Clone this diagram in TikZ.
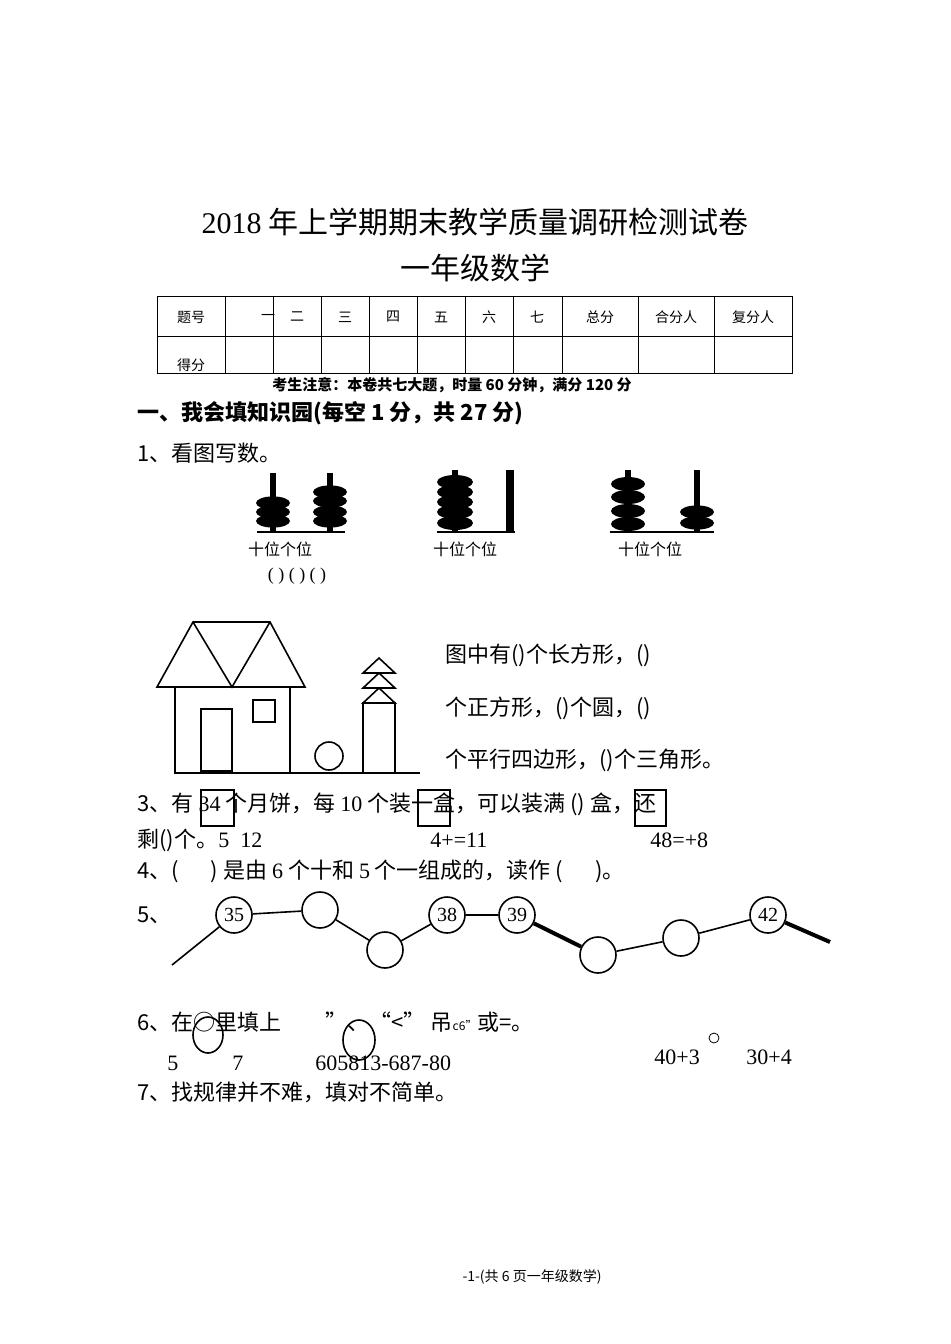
\documentclass[tikz,border=0pt]{standalone}
\usepackage{fontspec}
\setmainfont{Noto Sans CJK SC}
\newfontfamily\numfont{Liberation Serif}
\usetikzlibrary{positioning}
\tikzset{
  txt/.style={anchor=west, inner sep=0pt, font=\fontsize{11}{13}\selectfont},
  cell/.style={inner sep=0pt, font=\fontsize{7}{8}\selectfont},
  bead/.style={fill=black, draw=none},
  ring/.style={circle, draw, thick, minimum size=18pt, inner sep=0pt, font=\numfont\fontsize{10}{11}\selectfont},
  link/.style={thick},
  abox/.style={draw, thick}
}
\begin{document}
\begin{tikzpicture}[x=0.5pt,y=-0.5pt]
\useasboundingbox (0,0) rectangle (950,1344);
% title
\node[font=\fontsize{15}{17}\selectfont] (title) at (475,222) {{\numfont 2018} 年上学期期末教学质量调研检测试卷};
\node[font=\fontsize{15}{17}\selectfont] (sub) at (475,268) {一年级数学};
% score table
\draw (157,296) rectangle (792,373);
\draw (157,336) -- (792,336);
\foreach \x in {225,273,321,369,417,465,513,562,638,714} \draw (\x,296) -- (\x,373);
\node[cell] (th) at (191,317) {题号};
\node[cell] (t1) at (268,317) {一};
\foreach \x/\t in {297/二,345/三,393/四,441/五,489/六,537/七,600/总分,676/合分人,753/复分人}
  \node[cell] at (\x,317) {\t};
\node[cell] (tf) at (191,365) {得分};
\node[cell, font=\bfseries\fontsize{7.5}{8}\selectfont] (note) at (452,385) {考生注意：本卷共七大题，时量 60 分钟，满分 120 分};
% part one
\node[txt, font=\bfseries\fontsize{11}{13}\selectfont] (part) at (137,413) {一、我会填知识园(每空 1 分，共 27 分)};
\node[txt] (q1) at (137,453) {1、看图写数。};
% abacus 1
\draw[thick] (257,532) -- (345,532);
\draw[line width=3pt] (273,473) -- (273,532);
\draw[line width=3pt] (330,473) -- (330,532);
\foreach \y in {503,512,521} \fill[bead] (273,\y) ellipse (8.5pt and 3.3pt);
\foreach \y in {492,501,512,521} \fill[bead] (330,\y) ellipse (8.5pt and 3.3pt);
% abacus 2
\draw[thick] (437,532) -- (515,532);
\draw[line width=3pt] (455,470) -- (455,532);
\draw[line width=4pt] (510,470) -- (510,532);
\foreach \y in {482,492,502,512,523} \fill[bead] (455,\y) ellipse (9pt and 3.5pt);
% abacus 3
\draw[thick] (610,532) -- (714,532);
\draw[line width=3pt] (628,470) -- (628,532);
\draw[line width=3pt] (697,470) -- (697,532);
\foreach \y in {484,497,511,524} \fill[bead] (628,\y) ellipse (8.5pt and 3.5pt);
\foreach \y in {512,523} \fill[bead] (697,\y) ellipse (8.5pt and 3.3pt);
\foreach \x in {280,465,650}
  \node[cell, font=\fontsize{8}{9}\selectfont] at (\x,549) {十位个位};
\node[cell, font=\numfont\fontsize{9}{10}\selectfont] (par) at (297,576) {( ) ( ) ( )};
% house
\draw[thick] (157,687) -- (193,622) -- (270,622) -- (305,687) -- cycle;
\draw[thick] (193,622) -- (232,687) -- (270,622);
\draw[thick] (175,687) rectangle (290,773);
\draw[thick] (201,709) rectangle (232,771);
\draw[thick] (253,700) rectangle (275,722);
\draw[thick] (175,773) -- (420,773);
\draw[thick] (329,756) circle (7pt);
\draw[thick] (363,703) rectangle (395,773);
\foreach \y in {673,688,703} \draw[thick] (363,\y) -- (379,\y-15) -- (395,\y) -- cycle;
\node[txt] (h1) at (445,655) {图中有()个长方形，()};
\node[txt] (h2) at (445,708) {个正方形，()个圆，()};
\node[txt] (h3) at (445,760) {个平行四边形，()个三角形。};
% item 3
\node[txt] (q3) at (137,804) {3、有 {\numfont 34} 个月饼，每 {\numfont 10} 个装一盒，可以装满 () 盒，还};
\draw[abox] (201,790) rectangle (234,826);
\draw[abox] (418,790) rectangle (450,826);
\draw[abox] (635,790) rectangle (666,826);
\node[txt] (q3b) at (137,840) {剩()个。{\numfont 5\ \ 12}};
\node[txt, font=\numfont\fontsize{11}{13}\selectfont] (e1) at (430,840) {4+=11};
\node[txt, font=\numfont\fontsize{11}{13}\selectfont] (e2) at (650,840) {48=+8};
% item 4
\node[txt] (q4) at (137,871) {4、(\quad\ \ ) 是由 {\numfont 6} 个十和 {\numfont 5} 个一组成的，读作 (\quad\ \ )。};
% item 5
\node[txt] (q5) at (137,915) {5、};
\coordinate (s0) at (172,965);
\node[ring] (c1) at (234,915) {35};
\node[ring] (c2) at (320,910) {};
\node[ring] (c3) at (385,950) {};
\node[ring] (c4) at (447,915) {38};
\node[ring] (c5) at (517,915) {39};
\node[ring] (c6) at (598,955) {};
\node[ring] (c7) at (681,938) {};
\node[ring] (c8) at (768,915) {42};
\coordinate (s9) at (830,942);
\draw[link] (s0) -- (c1);
\draw[link] (c1) -- (c2);
\draw[link] (c2) -- (c3);
\draw[link] (c3) -- (c4);
\draw[link] (c4) -- (c5);
\draw[line width=2pt] (c5) -- (c6);
\draw[link] (c6) -- (c7);
\draw[link] (c7) -- (c8);
\draw[line width=2pt] (c8) -- (s9);
% item 6
\node[txt] (q6) at (137,1022) {6、在○里填上\qquad ”、“<” 吊{\fontsize{6}{7}\selectfont c6''}或=。};
\draw[thick] (208,1035) ellipse (7.5pt and 9pt);
\draw[thick] (359,1040) ellipse (8pt and 10pt);
\node[txt, font=\numfont\fontsize{11}{13}\selectfont] (n5) at (167,1063) {5};
\node[txt, font=\numfont\fontsize{11}{13}\selectfont] (n7) at (232,1063) {7};
\node[txt, font=\numfont\fontsize{11}{13}\selectfont] (n6) at (315,1063) {605813-687-80};
\node[txt, font=\numfont\fontsize{11}{13}\selectfont] (a1) at (654,1057) {40+3};
\draw (714,1038) circle (2.5pt);
\node[txt, font=\numfont\fontsize{11}{13}\selectfont] (a2) at (746,1057) {30+4};
% item 7
\node[txt] (q7) at (137,1092) {7、找规律并不难，填对不简单。};
\node[cell, font=\fontsize{7}{8}\selectfont] (foot) at (532,1277) {-1-(共 6 页一年级数学)};
\end{tikzpicture}
\end{document}
